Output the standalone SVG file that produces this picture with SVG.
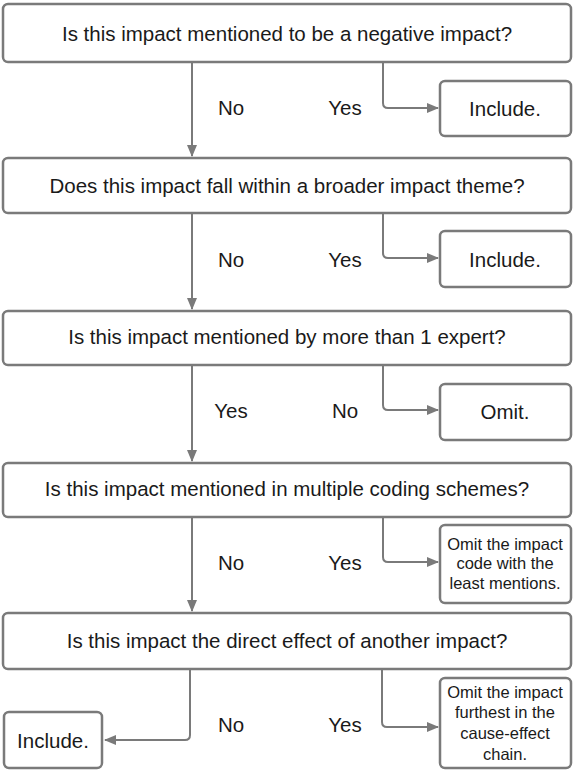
<svg xmlns="http://www.w3.org/2000/svg" width="574" height="770" viewBox="0 0 574 770">
  <defs>
    <marker id="arrow" viewBox="0 0 12 10" refX="11" refY="5" markerWidth="12" markerHeight="10" markerUnits="userSpaceOnUse" orient="auto">
      <path d="M0,0 L12,5 L0,10 Z" fill="#7a7a7a"/>
    </marker>
    <style>
      .box { fill: #ffffff; stroke: #7a7a7a; stroke-width: 2.5; }
      .edge { fill: none; stroke: #7a7a7a; stroke-width: 2; marker-end: url(#arrow); }
      text { font-family: "Liberation Sans", Arial, sans-serif; fill: #1a1a1a; text-anchor: middle; dominant-baseline: central; }
      .q { font-size: 20.5px; }
      .lbl { font-size: 20.5px; }
      .small { font-size: 16.5px; }
    </style>
  </defs>
  <rect width="574" height="770" fill="#ffffff"/>

  <g id="connectors">
    <path class="edge" d="M192,62 L192,156"/>
    <path class="edge" d="M383,62 L383,103 Q383,108 388,108 L438,108"/>
    <path class="edge" d="M192,213 L192,309"/>
    <path class="edge" d="M383,213 L383,253 Q383,258 388,258 L438,258"/>
    <path class="edge" d="M192,365 L192,461"/>
    <path class="edge" d="M383,365 L383,405 Q383,410 388,410 L438,410"/>
    <path class="edge" d="M192,517 L192,611"/>
    <path class="edge" d="M383,517 L383,557 Q383,562 388,562 L438,562"/>
    <path class="edge" d="M190,669 L190,735 Q190,740 185,740 L105,740"/>
    <path class="edge" d="M382,669 L382,722 Q382,727 387,727 L438,727"/>
    <text class="lbl" x="231" y="107">No</text>
    <text class="lbl" x="345" y="107">Yes</text>
    <text class="lbl" x="231" y="259">No</text>
    <text class="lbl" x="345" y="259">Yes</text>
    <text class="lbl" x="231" y="410">Yes</text>
    <text class="lbl" x="345" y="410">No</text>
    <text class="lbl" x="231" y="562">No</text>
    <text class="lbl" x="345" y="562">Yes</text>
    <text class="lbl" x="231" y="724">No</text>
    <text class="lbl" x="345" y="724">Yes</text>
  </g>

  <g id="q1">
    <rect class="box" x="3" y="4" width="568" height="58" rx="5"/>
    <text class="q" x="287" y="33">Is this impact mentioned to be a negative impact?</text>
  </g>
  <g id="include1">
    <rect class="box" x="440" y="81" width="131" height="55" rx="5"/>
    <text class="q" x="505" y="108">Include.</text>
  </g>
  <g id="q2">
    <rect class="box" x="3" y="158" width="568" height="55" rx="5"/>
    <text class="q" x="287" y="185">Does this impact fall within a broader impact theme?</text>
  </g>
  <g id="include2">
    <rect class="box" x="440" y="231" width="131" height="56" rx="5"/>
    <text class="q" x="505" y="259">Include.</text>
  </g>
  <g id="q3">
    <rect class="box" x="3" y="311" width="568" height="54" rx="5"/>
    <text class="q" x="287" y="336">Is this impact mentioned by more than 1 expert?</text>
  </g>
  <g id="omit">
    <rect class="box" x="440" y="384" width="131" height="56" rx="5"/>
    <text class="q" x="505" y="411">Omit.</text>
  </g>
  <g id="q4">
    <rect class="box" x="3" y="463" width="568" height="54" rx="5"/>
    <text class="q" x="287" y="488">Is this impact mentioned in multiple coding schemes?</text>
  </g>
  <g id="omit-least">
    <rect class="box" x="440" y="525" width="131" height="78" rx="5"/>
    <text class="small" x="505" y="544">Omit the impact</text>
    <text class="small" x="505" y="563">code with the</text>
    <text class="small" x="505" y="583">least mentions.</text>
  </g>
  <g id="q5">
    <rect class="box" x="3" y="613" width="568" height="56" rx="5"/>
    <text class="q" x="287" y="640">Is this impact the direct effect of another impact?</text>
  </g>
  <g id="include3">
    <rect class="box" x="4" y="712" width="98" height="56" rx="5"/>
    <text class="q" x="53" y="740">Include.</text>
  </g>
  <g id="omit-furthest">
    <rect class="box" x="440" y="678" width="131" height="90" rx="5"/>
    <text class="small" x="505" y="692">Omit the impact</text>
    <text class="small" x="505" y="712">furthest in the</text>
    <text class="small" x="505" y="733">cause-effect</text>
    <text class="small" x="505" y="754">chain.</text>
  </g>
</svg>
